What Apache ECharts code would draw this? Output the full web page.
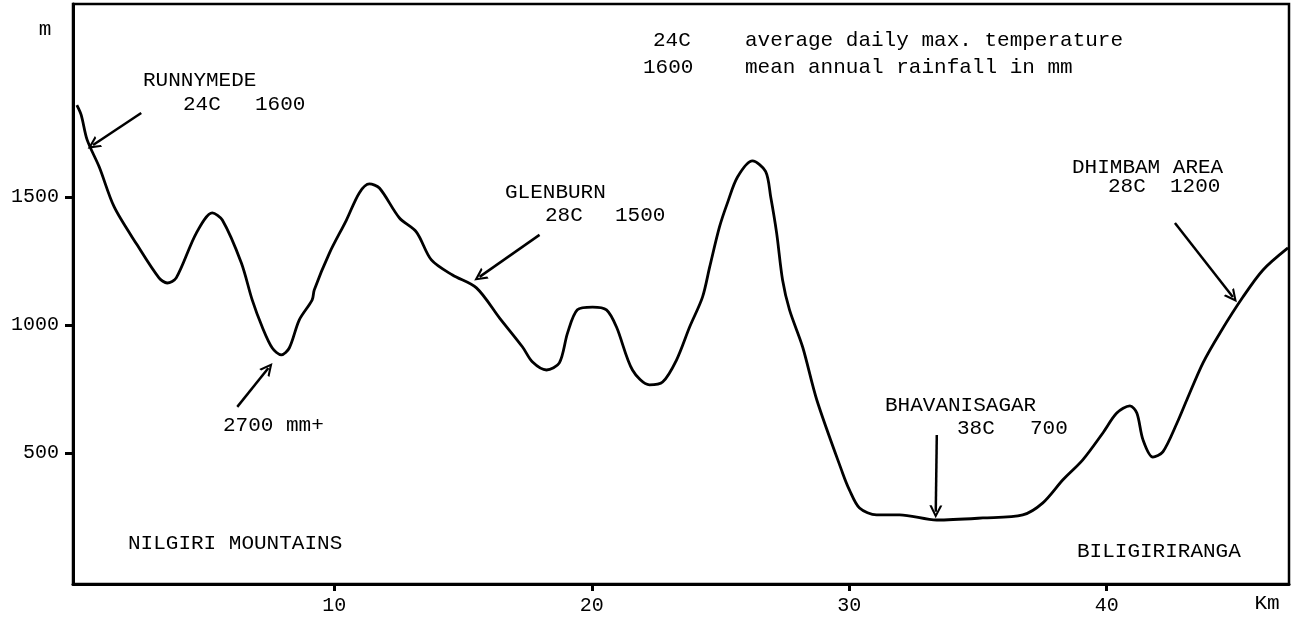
<!DOCTYPE html>
<html>
<head>
<meta charset="utf-8">
<script src="https://cdn.jsdelivr.net/npm/echarts@6/dist/echarts.min.js"></script>
<style>
html,body{margin:0;padding:0;background:#fff;}
#chart{width:1291px;height:617px;}
</style>
</head>
<body>
<div id="chart"></div>
<script>
// Distance along profile (km)
var distanceKm = [0, 0.17, 0.40, 0.87, 1.45, 2.34, 3.19, 3.51, 3.86, 4.64, 5.26, 5.65, 6.39, 6.81, 7.20, 7.59, 7.94, 8.25, 8.64, 9.14, 9.22, 9.81, 10.47, 10.97, 11.36, 11.75, 12.53, 13.19, 13.77, 14.59, 15.52, 16.42, 17.31, 17.70, 18.24, 18.74, 19.06, 19.44, 20.03, 20.57, 20.96, 21.58, 22.24, 22.75, 23.29, 23.80, 24.30, 24.58, 24.96, 25.27, 25.66, 26.24, 26.75, 26.95, 27.18, 27.41, 27.68, 28.19, 28.74, 29.74, 30.01, 30.40, 31.06, 31.96, 33.40, 35.19, 36.74, 37.52, 38.30, 39.07, 39.85, 40.39, 40.90, 41.17, 41.41, 41.79, 42.18, 42.73, 43.11, 43.74, 44.40, 45.29, 46.07, 47.04];
// Elevation (m)
var elevationM = [1859, 1820, 1723, 1617, 1461, 1313, 1184, 1164, 1184, 1359, 1438, 1410, 1242, 1098, 992, 910, 883, 910, 1020, 1098, 1137, 1281, 1410, 1516, 1551, 1535, 1418, 1363, 1254, 1195, 1145, 1027, 914, 855, 824, 852, 969, 1059, 1070, 1059, 992, 824, 766, 777, 863, 992, 1109, 1227, 1383, 1477, 1578, 1641, 1600, 1500, 1359, 1176, 1059, 914, 707, 422, 355, 285, 258, 258, 238, 246, 258, 305, 395, 473, 578, 656, 684, 656, 551, 484, 504, 617, 707, 852, 969, 1109, 1215, 1301];

var xTickValues = [10, 20, 30, 40];
var yTickValues = [500, 1000, 1500];

// Annotation arrows: [fromKm, fromM, toKm, toM]
var arrowRunnymede = [2.50, 1828, 0.63, 1703];
var arrowGlenburn = [17.97, 1352, 15.64, 1188];
var arrowRain = [6.23, 680, 7.44, 832];
var arrowBhavani = [33.40, 570, 33.36, 270];
var arrowDhimbam = [42.65, 1398, 44.90, 1109];
var arrows = [arrowRunnymede, arrowGlenburn, arrowRain, arrowBhavani, arrowDhimbam];

var FONT = '"Liberation Mono", "DejaVu Sans Mono", monospace';

function txt(s, x, y, align) {
  return {
    type: 'text', silent: true,
    style: { text: s, x: x, y: y, fill: '#000', font: '21px ' + FONT,
      textAlign: align || 'left', textVerticalAlign: 'middle' }
  };
}

var chart = echarts.init(document.getElementById('chart'), null, {renderer: 'canvas'});
var chevron = 'path://M0,10 L5,0 L10,10 L8.2,10 L5,3.6 L1.8,10 Z';

chart.setOption({
  animation: false,
  backgroundColor: '#fff',
  grid: { left: 73, right: 2, top: 4, bottom: 33, show: true, borderColor: '#000', borderWidth: 2.5, backgroundColor: 'transparent' },
  xAxis: {
    type: 'value', min: -0.15, max: 47.08,
    axisLine: { show: true, onZero: false, lineStyle: { color: '#000', width: 3 } },
    axisTick: { show: true, customValues: xTickValues, length: 7, lineStyle: { color: '#000', width: 3 } },
    axisLabel: { customValues: xTickValues, margin: 12, color: '#000', fontSize: 20, fontFamily: FONT,
      formatter: function (v) { return String(v); } },
    splitLine: { show: false }
  },
  yAxis: {
    type: 'value', min: -12, max: 2254,
    axisLine: { show: true, onZero: false, lineStyle: { color: '#000', width: 3 } },
    axisTick: { show: true, customValues: yTickValues, length: 8, lineStyle: { color: '#000', width: 3 } },
    axisLabel: { customValues: yTickValues, margin: 14, color: '#000', fontSize: 20, fontFamily: FONT,
      formatter: function (v) { return String(v); } },
    splitLine: { show: false }
  },
  series: [{
    type: 'line',
    data: distanceKm.map(function (d, i) { return [d, elevationM[i]]; }),
    showSymbol: false,
    smooth: 0.3,
    silent: true,
    lineStyle: { color: '#000', width: 2.8 },
    markLine: {
      silent: true,
      symbol: ['none', chevron],
      symbolSize: [13, 13],
      label: { show: false },
      lineStyle: { color: '#000', width: 2.5, type: 'solid' },
      data: arrows.map(function (a) {
        return [{ coord: [a[0], a[1]] }, { coord: [a[2], a[3]] }];
      })
    }
  }],
  graphic: [
    txt('m', 45, 29, 'center'),
    txt('Km', 1267, 603, 'center'),
    txt('24C', 653, 40), txt('average daily max. temperature', 745, 40),
    txt('1600', 643, 67), txt('mean annual rainfall in mm', 745, 67),
    txt('RUNNYMEDE', 143, 80), txt('24C', 183, 104), txt('1600', 255, 104),
    txt('GLENBURN', 505, 192), txt('28C', 545, 215), txt('1500', 615, 215),
    txt('2700 mm+', 223, 425),
    txt('BHAVANISAGAR', 885, 405), txt('38C', 957, 428), txt('700', 1030, 428),
    txt('DHIMBAM AREA', 1072, 167), txt('28C', 1108, 186), txt('1200', 1170, 186),
    txt('NILGIRI MOUNTAINS', 128, 543),
    txt('BILIGIRIRANGA', 1077, 551)
  ]
});
</script>
</body>
</html>
